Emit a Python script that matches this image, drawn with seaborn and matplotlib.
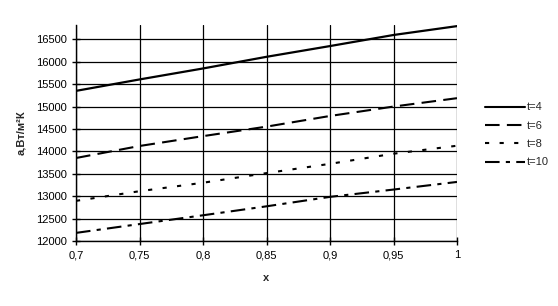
import matplotlib
matplotlib.use("Agg")
import matplotlib.pyplot as plt
import seaborn as sns
import pandas as pd

x_values = [0.70, 0.75, 0.80, 0.85, 0.90, 0.95, 1.00]
t4 = [15350, 15605, 15850, 16110, 16350, 16597, 16795]
t6 = [13852, 14120, 14340, 14552, 14790, 15000, 15187]
t8 = [12896, 13111, 13300, 13515, 13722, 13948, 14126]
t10 = [12181, 12378, 12574, 12774, 12985, 13148, 13318]
series_names = ["t=4", "t=6", "t=8", "t=10"]
x_tick_labels = ["0,7", "0,75", "0,8", "0,85", "0,9", "0,95", "1"]
y_ticks = [12000, 12500, 13000, 13500, 14000, 14500, 15000, 15500, 16000, 16500]

sns.set_theme(style="white")
plt.rcParams['font.family'] = ['Liberation Sans', 'DejaVu Sans']

rows = []
for name, vals in zip(series_names, [t4, t6, t8, t10]):
    for xv, yv in zip(x_values, vals):
        rows.append({"x": xv, "a": yv, "t": name})
df = pd.DataFrame(rows)

fig = plt.figure(figsize=(5.58, 3.06), dpi=100)
ax = fig.add_axes([76/558, 1-241/306, (457-76)/558, (241-25)/306])

dashes = {"t=4": "", "t=6": (7, 3.5), "t=8": (2, 5), "t=10": (7, 3, 2, 3)}
palette = {n: "black" for n in series_names}
sns.lineplot(data=df, x="x", y="a", hue="t", style="t", dashes=dashes,
             palette=palette, ax=ax, linewidth=1.5, legend=True, zorder=3)
for line, lw in zip(ax.lines[:4], [1.6, 1.5, 1.5, 1.5]):
    line.set_linewidth(lw)

ax.set_xlim(0.7, 1.0)
ax.set_ylim(12000, 16820)
ax.set_xticks(x_values)
ax.set_xticklabels(x_tick_labels)
ax.set_yticks(y_ticks)
ax.set_yticklabels([str(v) for v in y_ticks])
ax.grid(True, color="black", linewidth=0.9)
ax.set_axisbelow(True)
for s in ["top", "right"]:
    ax.spines[s].set_visible(False)
for s in ["left", "bottom"]:
    ax.spines[s].set_color("black")
    ax.spines[s].set_linewidth(1.0)
ax.tick_params(axis="both", which="major", direction="inout", length=6,
               width=1, color="black", labelsize=8, labelcolor="black",
               left=True, bottom=True, pad=3.5)
ax.set_xlabel("x", fontsize=8, fontweight="bold", labelpad=9)
ax.set_ylabel("a,Вт/м²К", fontsize=8, fontweight="bold", labelpad=7)

handles, labels = ax.get_legend_handles_labels()
ax.legend(handles, labels, loc="upper left", bbox_to_anchor=(481/558, 1-98/306),
          bbox_transform=fig.transFigure, frameon=False, fontsize=8,
          handlelength=3.6, handletextpad=0.15, labelspacing=0.75, borderaxespad=0)

fig.savefig("out.png", dpi=100)
